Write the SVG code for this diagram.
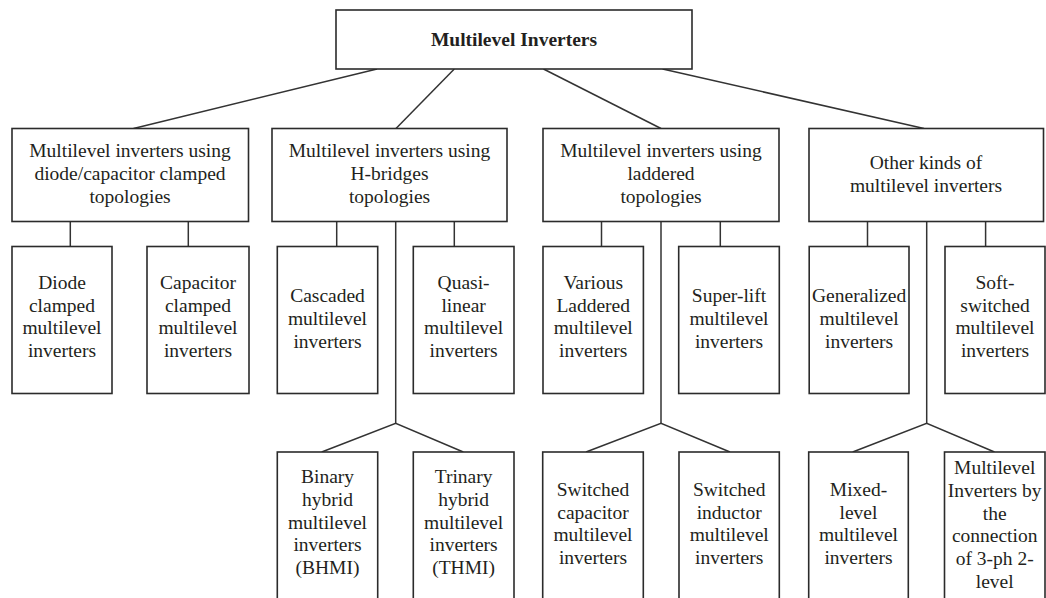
<svg xmlns="http://www.w3.org/2000/svg" width="1046" height="598" viewBox="0 0 1046 598">
  <style>
    .box { fill: #ffffff; stroke: #2b2b2b; stroke-width: 1.6; }
    .link { fill: none; stroke: #333333; stroke-width: 1.5; }
    text { font-family: "Liberation Serif", "Times New Roman", serif; font-size: 19.5px; fill: #231f20; text-anchor: middle; }
    .title { font-weight: bold; }
  </style>
  <rect width="1046" height="598" fill="#ffffff"/>

  <!-- connectors -->
  <g id="connectors">
    <!-- root to categories -->
    <line class="link" x1="377" y1="69" x2="133.5" y2="128.5"/>
    <line class="link" x1="454.3" y1="69" x2="396" y2="128.5"/>
    <line class="link" x1="543.5" y1="69" x2="661" y2="128.5"/>
    <line class="link" x1="662.6" y1="69" x2="924" y2="128.5"/>
    <!-- category stubs -->
    <line class="link" x1="70.3" y1="221.5" x2="70.3" y2="246.5"/>
    <line class="link" x1="188.3" y1="221.5" x2="188.3" y2="246.5"/>
    <line class="link" x1="336.7" y1="221.5" x2="336.7" y2="246.5"/>
    <line class="link" x1="454.3" y1="221.5" x2="454.3" y2="246.5"/>
    <line class="link" x1="601.5" y1="221.5" x2="601.5" y2="246.5"/>
    <line class="link" x1="720.3" y1="221.5" x2="720.3" y2="246.5"/>
    <line class="link" x1="867.5" y1="221.5" x2="867.5" y2="246.5"/>
    <line class="link" x1="985.6" y1="221.5" x2="985.6" y2="246.5"/>
    <!-- trunks to lower row -->
    <polyline class="link" points="321.7,452 395.7,423.3 463.3,452"/>
    <line class="link" x1="395.7" y1="221.5" x2="395.7" y2="423.3"/>
    <polyline class="link" points="586,452 661,423.3 730,452"/>
    <line class="link" x1="661" y1="221.5" x2="661" y2="423.3"/>
    <polyline class="link" points="852.7,452 926.7,423.3 994.5,452"/>
    <line class="link" x1="926.7" y1="221.5" x2="926.7" y2="423.3"/>
  </g>

  <!-- root -->
  <g id="root">
    <rect class="box" x="336" y="10" width="356" height="59"/>
    <text class="title" x="514" y="46">Multilevel Inverters</text>
  </g>

  <!-- categories -->
  <g id="cat-clamped">
    <rect class="box" x="12" y="128.5" width="236.5" height="93"/>
    <text x="130" y="157.3">Multilevel inverters using</text>
    <text x="130" y="180">diode/capacitor clamped</text>
    <text x="130" y="202.7">topologies</text>
  </g>
  <g id="cat-hbridge">
    <rect class="box" x="272" y="128.5" width="235" height="93"/>
    <text x="389.5" y="157.3">Multilevel inverters using</text>
    <text x="389.5" y="180">H-bridges</text>
    <text x="389.5" y="202.7">topologies</text>
  </g>
  <g id="cat-laddered">
    <rect class="box" x="543" y="128.5" width="236" height="93"/>
    <text x="661" y="157.3">Multilevel inverters using</text>
    <text x="661" y="180">laddered</text>
    <text x="661" y="202.7">topologies</text>
  </g>
  <g id="cat-other">
    <rect class="box" x="809" y="128.5" width="234.5" height="93"/>
    <text x="926" y="169">Other kinds of</text>
    <text x="926" y="191.7">multilevel inverters</text>
  </g>

  <!-- second row -->
  <g id="diode-clamped">
    <rect class="box" x="12" y="246.5" width="100" height="147"/>
    <text x="62" y="289">Diode</text>
    <text x="62" y="311.7">clamped</text>
    <text x="62" y="334.4">multilevel</text>
    <text x="62" y="357">inverters</text>
  </g>
  <g id="capacitor-clamped">
    <rect class="box" x="147" y="246.5" width="102" height="147"/>
    <text x="198" y="289">Capacitor</text>
    <text x="198" y="311.7">clamped</text>
    <text x="198" y="334.4">multilevel</text>
    <text x="198" y="357">inverters</text>
  </g>
  <g id="cascaded">
    <rect class="box" x="277.3" y="246.5" width="100.4" height="147"/>
    <text x="327.5" y="302.3">Cascaded</text>
    <text x="327.5" y="325">multilevel</text>
    <text x="327.5" y="347.7">inverters</text>
  </g>
  <g id="quasi-linear">
    <rect class="box" x="413.3" y="246.5" width="100.7" height="147"/>
    <text x="463.6" y="289">Quasi-</text>
    <text x="463.6" y="311.7">linear</text>
    <text x="463.6" y="334.4">multilevel</text>
    <text x="463.6" y="357">inverters</text>
  </g>
  <g id="various-laddered">
    <rect class="box" x="543" y="246.5" width="100.4" height="147"/>
    <text x="593.2" y="289">Various</text>
    <text x="593.2" y="311.7">Laddered</text>
    <text x="593.2" y="334.4">multilevel</text>
    <text x="593.2" y="357">inverters</text>
  </g>
  <g id="super-lift">
    <rect class="box" x="678.7" y="246.5" width="100.6" height="147"/>
    <text x="729" y="302.3">Super-lift</text>
    <text x="729" y="325">multilevel</text>
    <text x="729" y="347.7">inverters</text>
  </g>
  <g id="generalized">
    <rect class="box" x="809.2" y="246.5" width="99.8" height="147"/>
    <text x="859.1" y="302.3">Generalized</text>
    <text x="859.1" y="325">multilevel</text>
    <text x="859.1" y="347.7">inverters</text>
  </g>
  <g id="soft-switched">
    <rect class="box" x="945" y="246.5" width="100" height="147"/>
    <text x="995" y="289">Soft-</text>
    <text x="995" y="311.7">switched</text>
    <text x="995" y="334.4">multilevel</text>
    <text x="995" y="357">inverters</text>
  </g>

  <!-- third row (runs past the lower edge) -->
  <g id="bhmi">
    <rect class="box" x="277.3" y="452" width="100.4" height="160"/>
    <text x="327.5" y="483.3">Binary</text>
    <text x="327.5" y="506">hybrid</text>
    <text x="327.5" y="528.7">multilevel</text>
    <text x="327.5" y="551.4">inverters</text>
    <text x="327.5" y="574.1">(BHMI)</text>
  </g>
  <g id="thmi">
    <rect class="box" x="413.3" y="452" width="100.7" height="160"/>
    <text x="463.6" y="483.3">Trinary</text>
    <text x="463.6" y="506">hybrid</text>
    <text x="463.6" y="528.7">multilevel</text>
    <text x="463.6" y="551.4">inverters</text>
    <text x="463.6" y="574.1">(THMI)</text>
  </g>
  <g id="switched-capacitor">
    <rect class="box" x="542.7" y="452" width="100.6" height="160"/>
    <text x="593" y="496">Switched</text>
    <text x="593" y="518.7">capacitor</text>
    <text x="593" y="541.4">multilevel</text>
    <text x="593" y="564.1">inverters</text>
  </g>
  <g id="switched-inductor">
    <rect class="box" x="679" y="452" width="100.3" height="160"/>
    <text x="729.2" y="496">Switched</text>
    <text x="729.2" y="518.7">inductor</text>
    <text x="729.2" y="541.4">multilevel</text>
    <text x="729.2" y="564.1">inverters</text>
  </g>
  <g id="mixed-level">
    <rect class="box" x="808.7" y="452" width="99.6" height="160"/>
    <text x="858.5" y="496">Mixed-</text>
    <text x="858.5" y="518.7">level</text>
    <text x="858.5" y="541.4">multilevel</text>
    <text x="858.5" y="564.1">inverters</text>
  </g>
  <g id="three-phase-connection">
    <rect class="box" x="944.5" y="452" width="100.5" height="160"/>
    <text x="994.7" y="474.3">Multilevel</text>
    <text x="994.7" y="497">Inverters by</text>
    <text x="994.7" y="519.7">the</text>
    <text x="994.7" y="542.4">connection</text>
    <text x="994.7" y="565.1">of 3-ph 2-</text>
    <text x="994.7" y="587.8">level</text>
  </g>
</svg>
